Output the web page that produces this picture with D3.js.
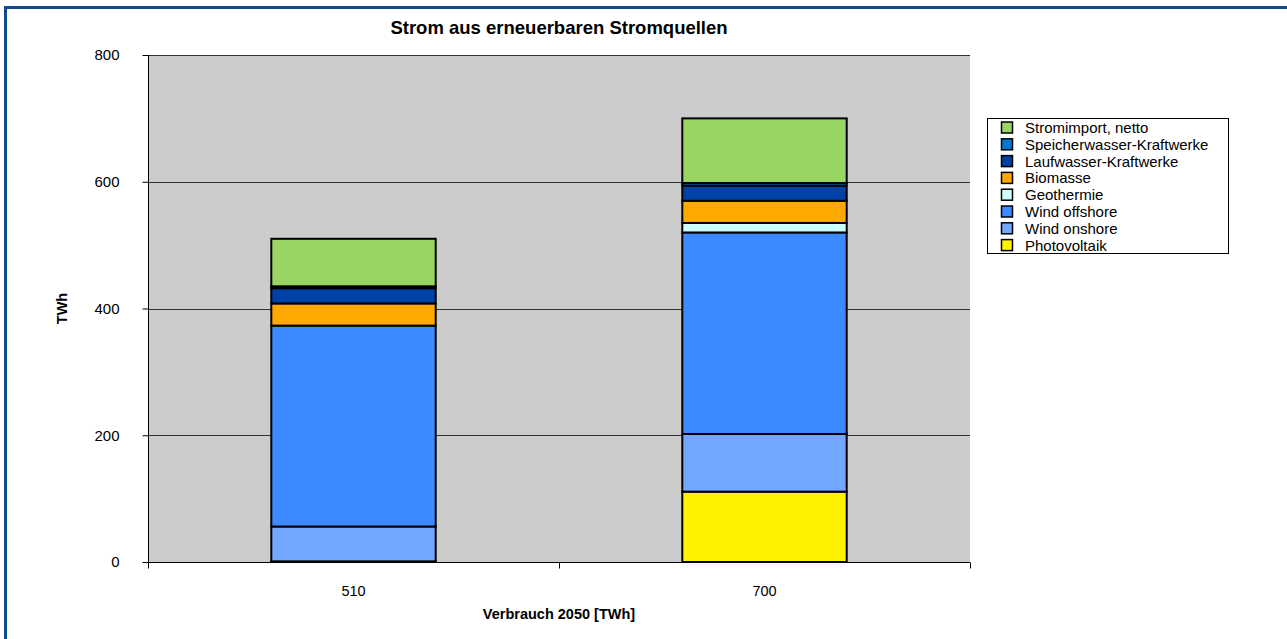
<!DOCTYPE html>
<html>
<head>
<meta charset="utf-8">
<script src="https://cdn.jsdelivr.net/npm/d3@7"></script>
<style>
  body { margin: 0; background: #fff; }
  svg { display: block; font-family: "Liberation Sans", Arial, sans-serif; }
</style>
</head>
<body>
<div class="main"></div>
<script>
(function() {
  'use strict';

  // categories (consumption 2050) and one array per source, bottom to top
  var categories = ["510", "700"];
  var sources = ["Photovoltaik", "Wind onshore", "Wind offshore", "Geothermie",
                 "Biomasse", "Laufwasser-Kraftwerke", "Speicherwasser-Kraftwerke", "Stromimport, netto"];
  var photovoltaik   = [1, 111];
  var windOnshore    = [55, 91];
  var windOffshore   = [317, 318];
  var geothermie     = [0, 15];
  var biomasse       = [35, 35];
  var laufwasser     = [24, 24];
  var speicherwasser = [3, 4];
  var stromimport    = [75, 102];
  var yTicks = [0, 200, 400, 600, 800];

  var colors = ["#fff200", "#74a7ff", "#3d89ff", "#ccffff",
                "#ffa800", "#0041a8", "#0078d4", "#99d562"];

  var series = [photovoltaik, windOnshore, windOffshore, geothermie,
                biomasse, laufwasser, speicherwasser, stromimport];

  var rows = categories.map(function(c, i) {
    var r = { cat: c };
    sources.forEach(function(s, j) { r[s] = series[j][i]; });
    return r;
  });

  var stacked = d3.stack().keys(sources)(rows);

  var width = 1287, height = 639;
  var left = 148, right = 970, top = 55, bottom = 562;

  var svg = d3.select(".main")
    .append("svg")
      .attr("width", width)
      .attr("height", height);

  // outer frame
  svg.append("rect")
      .attr("x", 5.5)
      .attr("y", 7.5)
      .attr("width", width + 10)
      .attr("height", height + 10)
      .style("fill", "none")
      .style("stroke", "#0f4a8e")
      .style("stroke-width", 3);

  var x = d3.scaleBand()
    .domain(categories)
    .range([left, right])
    .paddingInner(0)
    .paddingOuter(0);

  var y = d3.scaleLinear()
    .domain([0, 800])
    .range([bottom, top]);

  // plot background
  svg.append("rect")
      .attr("x", left)
      .attr("y", top)
      .attr("width", right - left)
      .attr("height", bottom - top)
      .style("fill", "#cccccc");

  // grid lines
  svg.append("g")
    .selectAll("line")
    .data(yTicks.slice(1))
    .enter().append("line")
      .attr("x1", left)
      .attr("x2", right)
      .attr("y1", function(d) { return Math.round(y(d)) + 0.5; })
      .attr("y2", function(d) { return Math.round(y(d)) + 0.5; })
      .style("stroke", "#333")
      .style("stroke-width", 1);

  // bars
  var bw = x.bandwidth() * 0.4;
  svg.append("g")
    .selectAll("g")
    .data(stacked)
    .enter().append("g")
      .style("fill", function(d, i) { return colors[i]; })
    .selectAll("rect")
    .data(function(d) { return d; })
    .enter().append("rect")
      .attr("x", function(d) { return x(d.data.cat) + (x.bandwidth() - bw) / 2; })
      .attr("y", function(d) { return y(d[1]); })
      .attr("width", bw)
      .attr("height", function(d) { return y(d[0]) - y(d[1]); })
      .style("stroke", "#000")
      .style("stroke-width", 2);

  // y axis
  var yAxis = svg.append("g")
    .attr("transform", "translate(" + (left + 0.5) + ",0)")
    .call(d3.axisLeft(y).tickValues(yTicks).tickSize(6).tickPadding(23));
  yAxis.select(".domain").attr("d", "M0," + top + "V" + bottom).style("stroke", "#000");
  yAxis.selectAll("line").style("stroke", "#000");
  yAxis.selectAll("text")
      .style("font-size", "15px")
      .style("font-family", "Liberation Sans, Arial, sans-serif")
      .style("fill", "#000");

  // x axis with ticks on category boundaries
  var xAxis = svg.append("g")
    .attr("transform", "translate(0," + (bottom + 0.5) + ")");
  xAxis.append("line")
      .attr("x1", left)
      .attr("x2", right)
      .style("stroke", "#000");
  xAxis.selectAll(".tb")
    .data([left, left + x.bandwidth(), right])
    .enter().append("line")
      .attr("x1", function(d) { return Math.round(d) + 0.5; })
      .attr("x2", function(d) { return Math.round(d) + 0.5; })
      .attr("y1", 0)
      .attr("y2", 6)
      .style("stroke", "#000");
  xAxis.selectAll("text")
    .data(categories)
    .enter().append("text")
      .attr("x", function(d) { return x(d) + x.bandwidth() / 2; })
      .attr("y", 33)
      .text(function(d) { return d; })
      .style("text-anchor", "middle")
      .style("font-size", "14.5px");

  // titles
  svg.append("text")
      .attr("x", (left + right) / 2)
      .attr("y", 34)
      .text("Strom aus erneuerbaren Stromquellen")
      .style("text-anchor", "middle")
      .style("font-weight", "bold")
      .style("font-size", "18.5px");

  svg.append("text")
      .attr("x", (left + right) / 2)
      .attr("y", 619)
      .text("Verbrauch 2050 [TWh]")
      .style("text-anchor", "middle")
      .style("font-weight", "bold")
      .style("font-size", "14.5px");

  svg.append("text")
      .attr("transform", "translate(67," + ((top + bottom) / 2) + ") rotate(-90)")
      .text("TWh")
      .style("text-anchor", "middle")
      .style("font-weight", "bold")
      .style("font-size", "14.5px");

  // legend, top entry is the top of the stack
  var legend = svg.append("g");
  legend.append("rect")
      .attr("x", 987.5)
      .attr("y", 118.5)
      .attr("width", 241)
      .attr("height", 135)
      .style("fill", "#fff")
      .style("stroke", "#000")
      .style("stroke-width", 1);

  var items = sources.slice().reverse();
  var entry = legend.selectAll(".item")
    .data(items)
    .enter().append("g")
      .attr("transform", function(d, i) { return "translate(0," + (127.5 + i * 16.8) + ")"; });

  entry.append("rect")
      .attr("x", 1001.5)
      .attr("y", -5.5)
      .attr("width", 11)
      .attr("height", 11)
      .style("fill", function(d) { return colors[sources.indexOf(d)]; })
      .style("stroke", "#000")
      .style("stroke-width", 1.5);

  entry.append("text")
      .attr("x", 1025)
      .attr("y", 5.5)
      .text(function(d) { return d; })
      .style("font-size", "15px");

}) ();
</script>
</body>
</html>
